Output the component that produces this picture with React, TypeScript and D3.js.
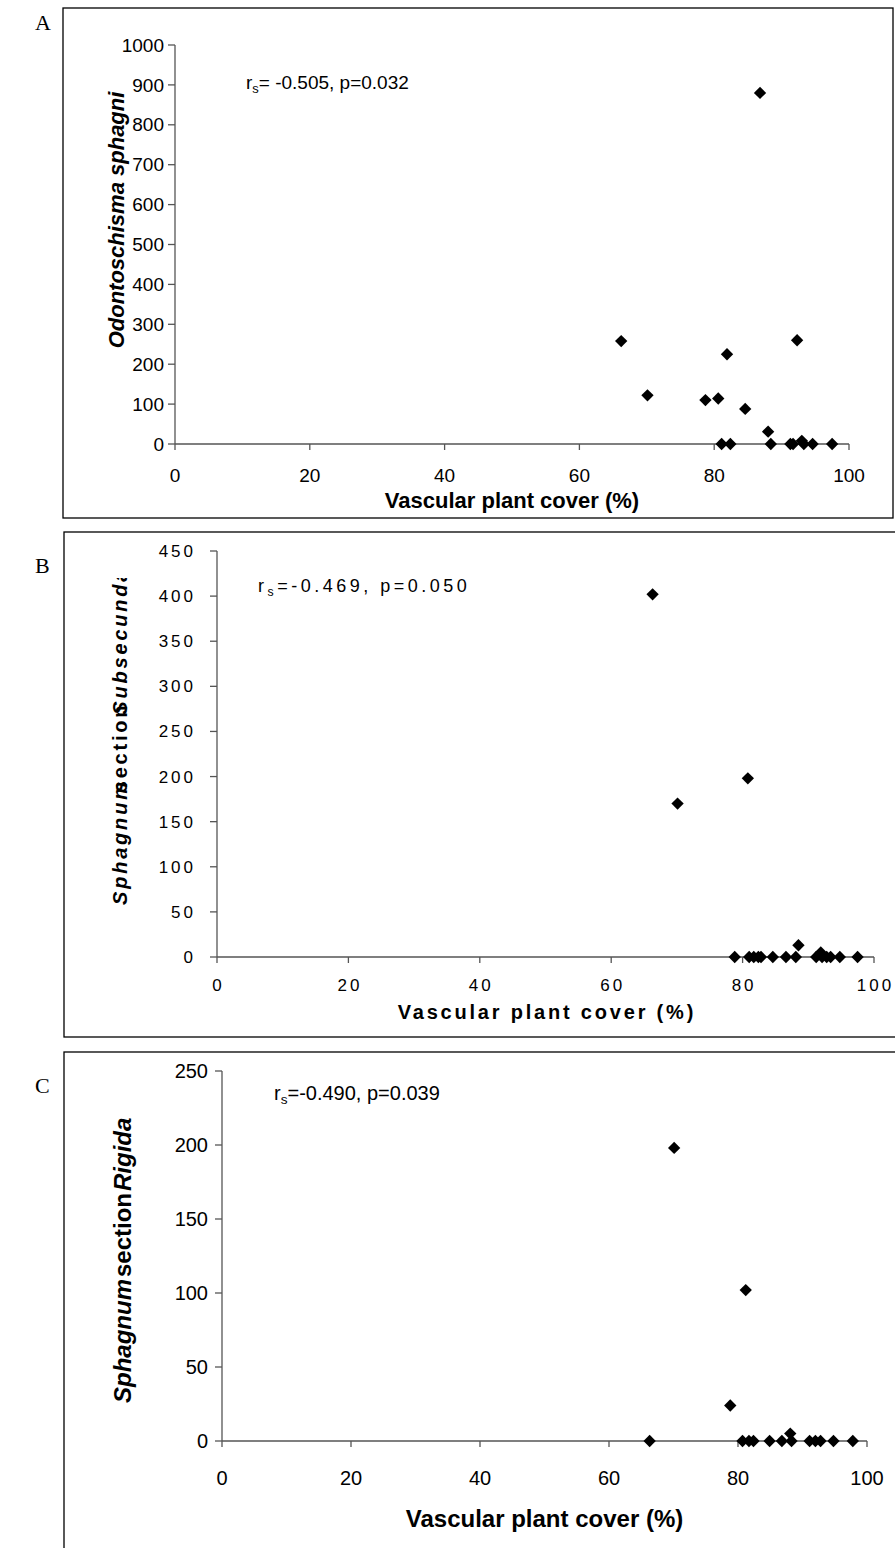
import React from "react";
import * as d3 from "d3";

// ---------- data ----------
const coverA = [86.8, 66.2, 92.3, 81.9, 70.1, 78.7, 80.6, 84.6, 88.0, 81.1, 82.4, 88.4, 91.3, 91.7, 93.0, 93.3, 94.6, 97.5];
const valueA = [880, 258, 260, 225, 122, 110, 114, 88, 31, 0, 0, 0, 0, 0, 8, 0, 0, 0];

const coverB = [66.3, 70.1, 80.8, 88.5, 91.9, 78.8, 81.0, 81.7, 82.4, 82.8, 84.6, 86.6, 88.1, 91.2, 92.1, 92.8, 93.4, 94.8, 97.5];
const valueB = [402, 170, 198, 13, 5, 0, 0, 0, 0, 0, 0, 0, 0, 0, 0, 0, 0, 0, 0];

const coverC = [70.1, 81.2, 78.8, 88.1, 66.3, 80.7, 81.7, 82.4, 84.9, 86.8, 88.3, 91.1, 92.0, 92.8, 94.8, 97.8];
const valueC = [198, 102, 24, 5, 0, 0, 0, 0, 0, 0, 0, 0, 0, 0, 0, 0];

const xTicks = [0, 20, 40, 60, 80, 100];
const yTicksA = [0, 100, 200, 300, 400, 500, 600, 700, 800, 900, 1000];
const yTicksB = [0, 50, 100, 150, 200, 250, 300, 350, 400, 450];
const yTicksC = [0, 50, 100, 150, 200, 250];

const statA = "-0.505, p=0.032";
const statB = "-0.469, p=0.050";
const statC = "-0.490, p=0.039";

// ---------- layout ----------
type Panel = {
  key: string;
  letter: string;
  letterY: number;
  frame: [number, number, number, number];
  x0: number; x1: number; y0: number; y1: number;
  yMax: number;
  yTicks: number[];
  cover: number[];
  value: number[];
  tickFont: number; tickSp: number; tickGap: number;
  statFont: number; statSp: number;
  titleFont: number; titleSp: number;
  stat: string;
  statEq: string;
  statX: number; statY: number;
  xLabY: number; xTitleY: number;
  yTitleX: number;
};

const panels: Panel[] = [
  {
    key: "A", letter: "A", letterY: 30,
    frame: [63, 8, 893, 518],
    x0: 175, x1: 849, y0: 444, y1: 45, yMax: 1000,
    yTicks: yTicksA, cover: coverA, value: valueA,
    tickFont: 19, tickSp: 0, tickGap: 11,
    statFont: 19, statSp: 0,
    titleFont: 22, titleSp: 0,
    stat: statA, statEq: "= ", statX: 246, statY: 89,
    xLabY: 482, xTitleY: 508, yTitleX: 124,
  },
  {
    key: "B", letter: "B", letterY: 573,
    frame: [64, 532, 905, 1037],
    x0: 217, x1: 874, y0: 957, y1: 551, yMax: 450,
    yTicks: yTicksB, cover: coverB, value: valueB,
    tickFont: 17, tickSp: 3, tickGap: 21,
    statFont: 18, statSp: 3.5,
    titleFont: 20, titleSp: 2.8,
    stat: statB, statEq: "=", statX: 258, statY: 592,
    xLabY: 991, xTitleY: 1019, yTitleX: 127,
  },
  {
    key: "C", letter: "C", letterY: 1093,
    frame: [64, 1052, 905, 1560],
    x0: 222, x1: 867, y0: 1441, y1: 1071, yMax: 250,
    yTicks: yTicksC, cover: coverC, value: valueC,
    tickFont: 20, tickSp: 0, tickGap: 14,
    statFont: 20, statSp: 0,
    titleFont: 24, titleSp: 0,
    stat: statC, statEq: "=", statX: 274, statY: 1100,
    xLabY: 1485, xTitleY: 1527, yTitleX: 131,
  },
];

const FONT = "'Liberation Sans', Arial, sans-serif";
const AXIS = "#555";

function YTitle({ p }: { p: Panel }) {
  if (p.key === "A") {
    return (
      <text transform={`translate(${p.yTitleX},220) rotate(-90)`} textAnchor="middle"
        fontFamily={FONT} fontSize={p.titleFont} fontWeight="bold" fontStyle="italic" fill="#000">
        Odontoschisma sphagni
      </text>
    );
  }
  if (p.key === "B") {
    return (
      <g clipPath="url(#clipB)">
        <text transform={`translate(${p.yTitleX},905) rotate(-90)`} textAnchor="start"
          fontFamily={FONT} fontSize={p.titleFont} fontWeight="bold" fill="#000" letterSpacing={p.titleSp}>
          <tspan fontStyle="italic">Sphagnum</tspan>
          <tspan dx={-13}>section</tspan>
          <tspan dx={-12} fontStyle="italic">Subsecunda</tspan>
        </text>
      </g>
    );
  }
  return (
    <text transform={`translate(${p.yTitleX},1403) rotate(-90)`} textAnchor="start"
      fontFamily={FONT} fontSize={p.titleFont} fontWeight="bold" fill="#000">
      <tspan fontStyle="italic">Sphagnum</tspan>
      <tspan dx={2}>section</tspan>
      <tspan dx={2} fontStyle="italic">Rigida</tspan>
    </text>
  );
}

function PanelView({ p }: { p: Panel }) {
  const x = d3.scaleLinear().domain([0, 100]).range([p.x0, p.x1]);
  const y = d3.scaleLinear().domain([0, p.yMax]).range([p.y0, p.y1]);
  const diamond = d3.symbol().type(d3.symbolSquare).size(76)();
  const [fx0, fy0, fx1, fy1] = p.frame;
  return (
    <g>
      <text x={35} y={p.letterY} fontFamily="'Liberation Serif', 'Times New Roman', serif" fontSize={22} fill="#000">
        {p.letter}
      </text>
      <rect x={fx0} y={fy0} width={fx1 - fx0} height={fy1 - fy0} fill="none" stroke="#000" strokeWidth={1.3} />
      {/* y axis */}
      <line x1={x(0)} x2={x(0)} y1={y(0)} y2={y(p.yMax)} stroke={AXIS} strokeWidth={1.3} />
      {p.yTicks.map((t) => (
        <g key={"y" + t}>
          <line x1={x(0) - 7} x2={x(0)} y1={y(t)} y2={y(t)} stroke={AXIS} strokeWidth={1.3} />
          <text x={x(0) - p.tickGap} y={y(t)} dy="0.35em" textAnchor="end" fontFamily={FONT}
            fontSize={p.tickFont} letterSpacing={p.tickSp} fill="#000">
            {t}
          </text>
        </g>
      ))}
      {/* x axis */}
      <line x1={x(0)} x2={x(100)} y1={y(0)} y2={y(0)} stroke={AXIS} strokeWidth={1.3} />
      {xTicks.map((t) => (
        <g key={"x" + t}>
          <line x1={x(t)} x2={x(t)} y1={y(0)} y2={y(0) + 6} stroke={AXIS} strokeWidth={1.3} />
          <text x={x(t) + p.tickSp / 2} y={p.xLabY} textAnchor="middle" fontFamily={FONT}
            fontSize={p.tickFont} letterSpacing={p.tickSp} fill="#000">
            {t}
          </text>
        </g>
      ))}
      <text x={(x(0) + x(100)) / 2 + p.titleSp / 2} y={p.xTitleY} textAnchor="middle" fontFamily={FONT}
        fontSize={p.titleFont} fontWeight="bold" letterSpacing={p.titleSp} fill="#000">
        Vascular plant cover (%)
      </text>
      <YTitle p={p} />
      {/* stat */}
      <text x={p.statX} y={p.statY} fontFamily={FONT} fontSize={p.statFont}
        letterSpacing={p.statSp} fill="#000">
        r<tspan fontSize={p.statFont * 0.68} dy={4}>s</tspan>
        <tspan dy={-4}>{p.statEq + p.stat}</tspan>
      </text>
      {/* points */}
      {p.cover.map((c, i) => (
        <path key={i} d={diamond!} transform={`translate(${x(c)},${y(p.value[i])}) rotate(45)`} fill="#000" />
      ))}
    </g>
  );
}

export default function App() {
  return (
    <svg width={895} height={1548} viewBox="0 0 895 1548" style={{ display: "block", position: "absolute", left: 0, top: 0 }}>
      <defs>
        <clipPath id="clipB">
          <rect x={80} y={578} width={80} height={400} />
        </clipPath>
      </defs>
      <rect x={0} y={0} width={895} height={1548} fill="#fff" />
      {panels.map((p) => (
        <PanelView key={p.key} p={p} />
      ))}
    </svg>
  );
}
